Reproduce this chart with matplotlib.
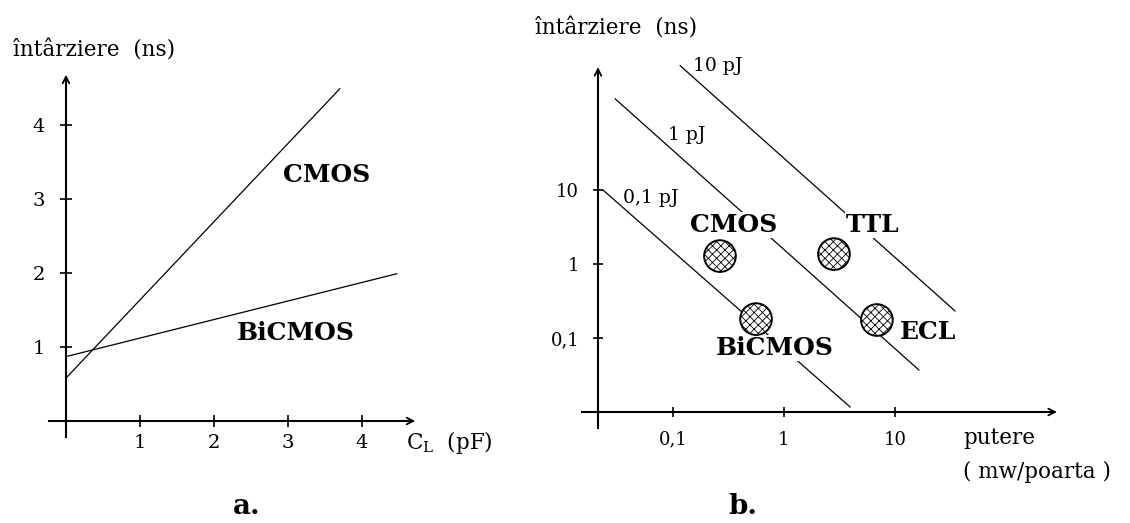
import matplotlib
matplotlib.use("Agg")
import matplotlib.pyplot as plt

W, H = 1130, 523

# ---- panel a: delay vs load capacitance (linear) ----
cl_ticks = [1, 2, 3, 4]
delay_ticks = [1, 2, 3, 4]
cmos_cl = [0.0, 3.70]
cmos_delay = [0.58, 4.49]
bicmos_cl = [0.0, 4.47]
bicmos_delay = [0.87, 1.99]

# ---- panel b: delay vs power per gate (log-log), constant-energy lines ----
energy_labels = ["0,1 pJ", "1 pJ", "10 pJ"]
energy_power = [[0.0234, 3.94], [0.0302, 16.4], [0.116, 34.7]]
energy_delay = [[10.0, 0.0117], [170.0, 0.037], [479.0, 0.232]]
energy_label_pos = [(0.0354, 7.8), (0.0902, 55.4), (0.151, 475.0)]

families = ["CMOS", "TTL", "BiCMOS", "ECL"]
family_power = [0.265, 2.82, 0.56, 6.87]
family_delay = [1.28, 1.36, 0.18, 0.175]
family_label_pos = [(0.355, 3.37), (6.33, 3.37), (0.83, 0.073), (11.1, 0.12)]
family_label_ha = ["center", "center", "center", "left"]

log_ticks = [0.1, 1, 10]
log_ticklabels = ["0,1", "1", "10"]

plt.rcParams["font.family"] = ["DejaVu Serif"]
plt.rcParams["hatch.linewidth"] = 0.6

fig = plt.figure(figsize=(W / 100, H / 100), dpi=100)
fig.patch.set_facecolor("white")


def px_box(l, t, r, b):
    return [l / W, 1 - b / H, (r - l) / W, (b - t) / H]


bold = dict(fontsize=18, fontweight="bold")
arrow = dict(arrowstyle="->", lw=1.3, color="black", shrinkA=0, shrinkB=0,
             mutation_scale=12)

# ------------------------------------------------------------------ panel a
axa = fig.add_axes(px_box(20, 30, 460, 470))
axa.set_xlim((20 - 66) / 74, (460 - 66) / 74)
axa.set_ylim((421 - 470) / 74, (421 - 30) / 74)
for s in ("top", "right"):
    axa.spines[s].set_visible(False)
axa.spines["left"].set_position(("data", 0))
axa.spines["bottom"].set_position(("data", 0))
axa.spines["left"].set_bounds(-0.22, 4.6)
axa.spines["bottom"].set_bounds(-0.23, 4.65)
for s in ("left", "bottom"):
    axa.spines[s].set_linewidth(1.5)
axa.set_xticks(cl_ticks)
axa.set_yticks(delay_ticks)
axa.tick_params(direction="inout", length=8.5, width=1.2, labelsize=14)
axa.tick_params(axis="y", pad=11)
axa.tick_params(axis="x", pad=5)
axa.annotate("", xy=(0, 4.68), xytext=(0, 4.4), arrowprops=arrow)
axa.annotate("", xy=(4.72, 0), xytext=(4.4, 0), arrowprops=arrow)

axa.plot(cmos_cl, cmos_delay, color="black", lw=0.9)
axa.plot(bicmos_cl, bicmos_delay, color="black", lw=0.9)
axa.text(2.93, 3.32, "CMOS", ha="left", va="center", **bold)
axa.text(2.31, 1.19, "BiCMOS", ha="left", va="center", **bold)

fig.text(13 / W, 1 - 50 / H, "întârziere  (ns)", fontsize=15.5,
         ha="left", va="center")
fig.text(406 / W, 1 - 443 / H, r"C$_\mathregular{L}$  (pF)", fontsize=15.5,
         ha="left", va="center")
fig.text(247 / W, 1 - 506 / H, "a.", fontsize=20, fontweight="bold",
         ha="center", va="center")

# ------------------------------------------------------------------ panel b
axb = fig.add_axes(px_box(560, 30, 1080, 470))
axb.set_xscale("log")
axb.set_yscale("log")
axb.set_xlim(10 ** ((560 - 784) / 111), 10 ** ((1080 - 784) / 111))
axb.set_ylim(10 ** ((264 - 470) / 74), 10 ** ((264 - 30) / 74))
for s in ("top", "right"):
    axb.spines[s].set_visible(False)
axb.spines["left"].set_position(("data", 0.0211))
axb.spines["bottom"].set_position(("data", 0.01))
axb.spines["left"].set_bounds(0.0061, 420)
axb.spines["bottom"].set_bounds(0.0152, 260)
for s in ("left", "bottom"):
    axb.spines[s].set_linewidth(1.5)
axb.minorticks_off()
axb.set_xticks(log_ticks, log_ticklabels)
axb.set_yticks(log_ticks, log_ticklabels)
axb.tick_params(direction="inout", length=7, width=1.2, labelsize=13)
axb.tick_params(axis="y", pad=10)
axb.tick_params(axis="x", pad=10)
axb.annotate("", xy=(0.0211, 458), xytext=(0.0211, 300), arrowprops=arrow)
axb.annotate("", xy=(288, 0.01), xytext=(180, 0.01), arrowprops=arrow)

for p, d, lab, pos in zip(energy_power, energy_delay, energy_labels,
                          energy_label_pos):
    axb.plot(p, d, color="black", lw=0.9, zorder=2)
    axb.text(pos[0], pos[1], lab, fontsize=13.5, ha="left", va="center")

axb.scatter(family_power, family_delay, s=520, marker="o", facecolor="white",
            edgecolor="black", linewidths=1.4, hatch="xxxx", zorder=4)
for lab, pos, ha in zip(families, family_label_pos, family_label_ha):
    axb.text(pos[0], pos[1], lab, ha=ha, va="center", zorder=3,
             bbox=dict(boxstyle="square,pad=0.05", fc="white", ec="none"),
             **bold)

fig.text(535 / W, 1 - 28 / H, "întârziere  (ns)", fontsize=15.5,
         ha="left", va="center")
fig.text(963 / W, 1 - 438 / H, "putere", fontsize=15.5, ha="left", va="center")
fig.text(963 / W, 1 - 472 / H, "( mw/poarta )", fontsize=15.5,
         ha="left", va="center")
fig.text(743 / W, 1 - 506 / H, "b.", fontsize=20, fontweight="bold",
         ha="center", va="center")

fig.savefig("out.png", dpi=100, facecolor="white")
